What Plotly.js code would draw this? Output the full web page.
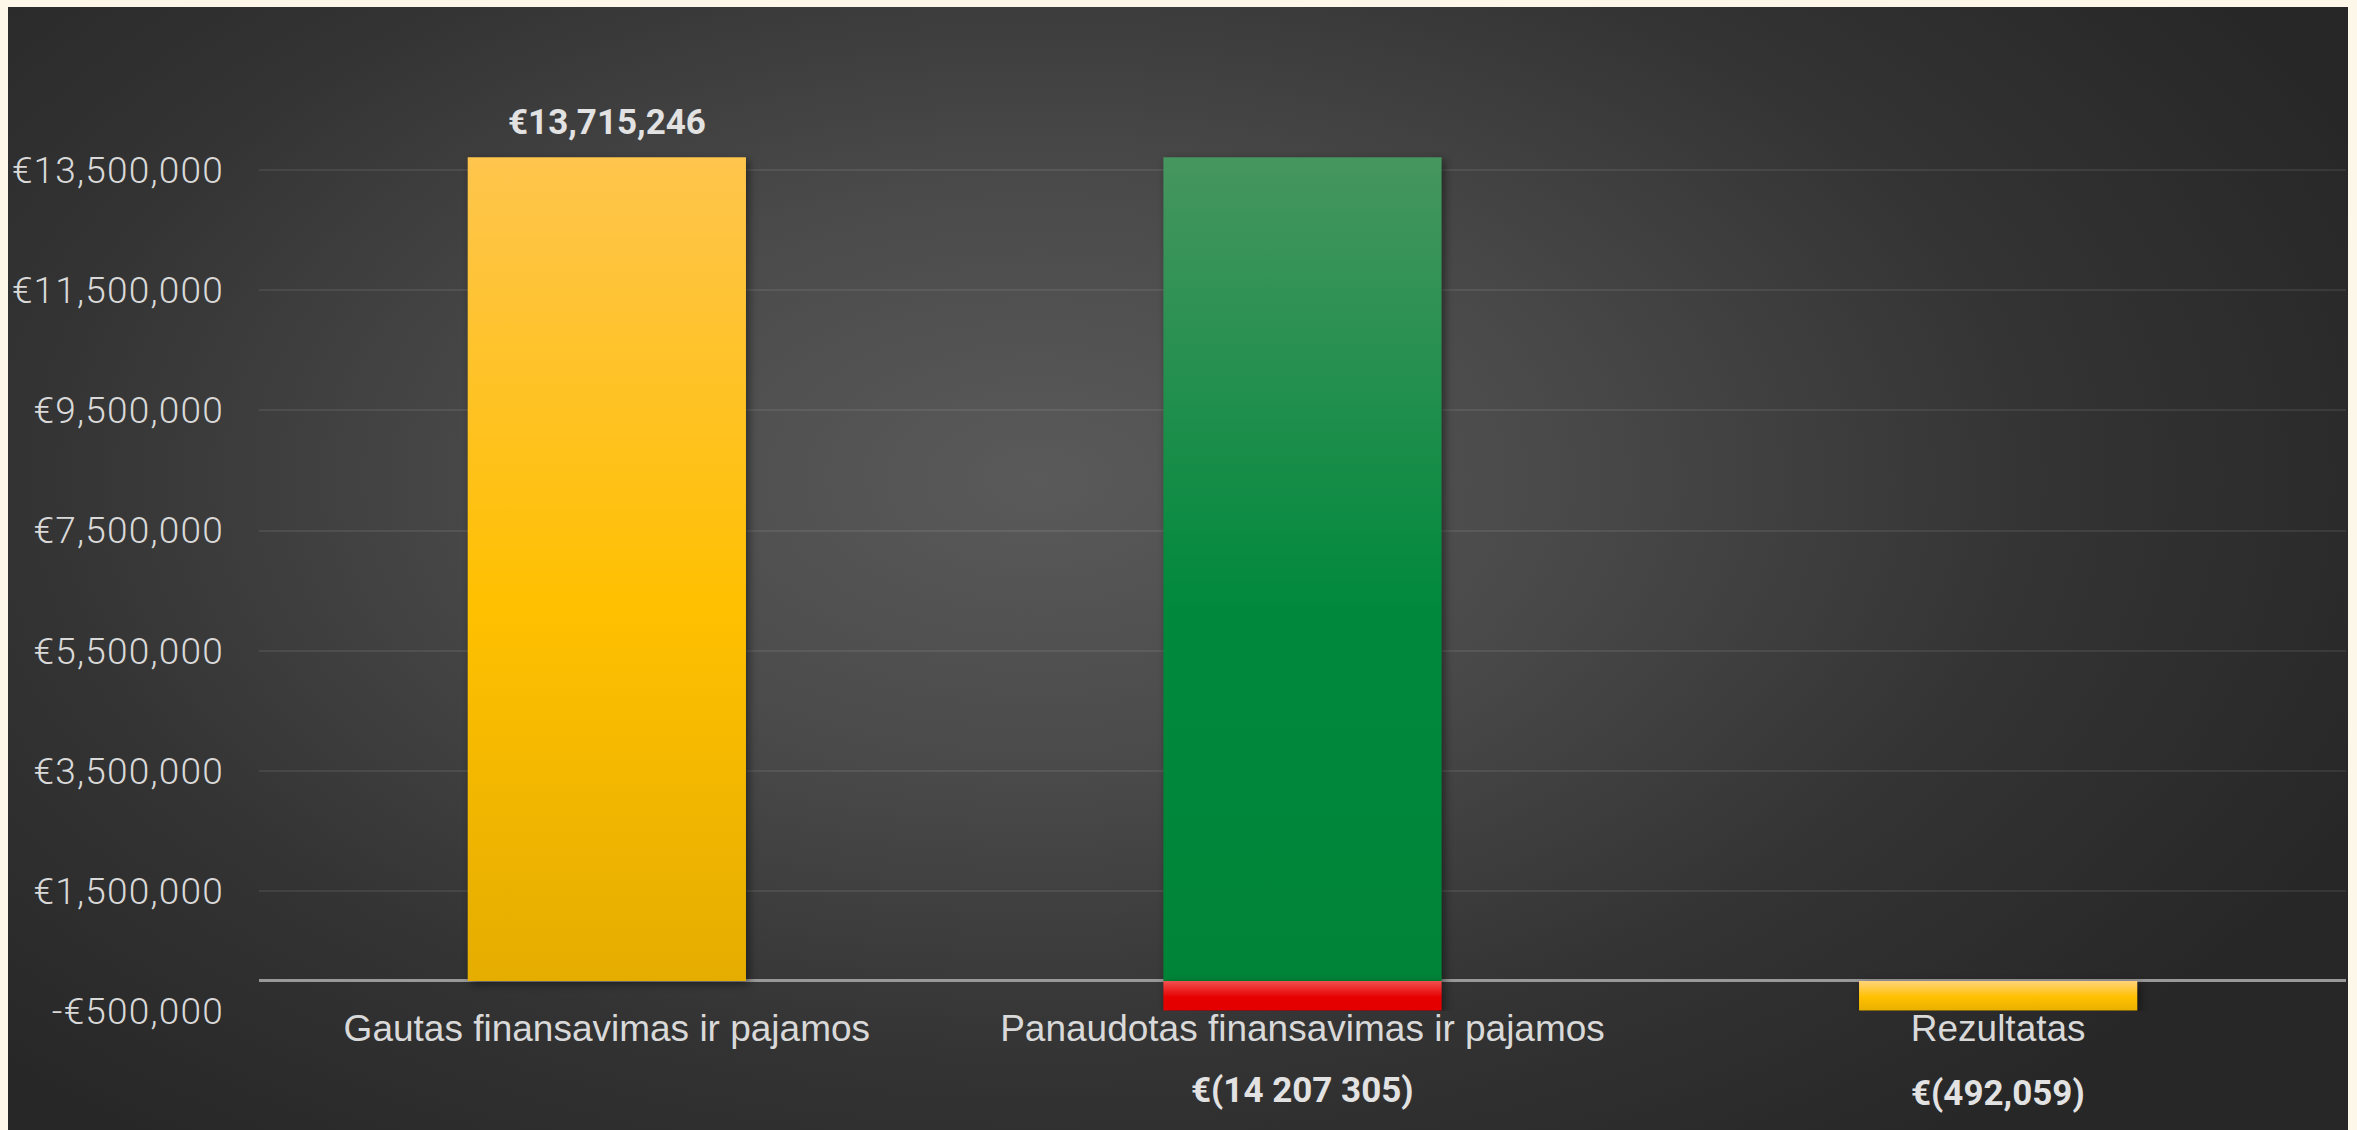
<!DOCTYPE html>
<html>
<head>
<meta charset="utf-8">
<script src="https://cdn.plot.ly/plotly-3.0.1.min.js"></script>
<style>
  html, body { margin: 0; padding: 0; background: #fdf7e9; width: 2357px; height: 1130px; overflow: hidden; }
  #bg { position: absolute; left: 8px; top: 7px; width: 2340px; height: 1123px;
        background: radial-gradient(ellipse 62% 75% at 44% 42%, #5a5a5a 0%, #4a4a4a 35%, #333333 70%, #272727 100%); }
  #chart { position: absolute; left: 0; top: 0; width: 2357px; height: 1130px; }
  .barlayer .point path { filter: drop-shadow(3px 3px 4px rgba(0,0,0,0.45)); }
  .ytick text { letter-spacing: 1.2px; }
</style>
</head>
<body>
<div id="bg"></div>
<div id="chart"></div>
<script>
// ---- data ----
var categories = ['Gautas finansavimas ir pajamos', 'Panaudotas finansavimas ir pajamos', 'Rezultatas'];
var coveredValues = [13715246, 13715246, null];     // positive part of each bar
var deficitValues = [null, -492059, -492059];       // negative part of each bar
var valueLabels = ['€13,715,246', '€(14 207 305)', '€(492,059)'];
var labelAnchors = [13715246, null, null];
var tickValues = [-500000, 1500000, 3500000, 5500000, 7500000, 9500000, 11500000, 13500000];
var tickLabels = ['-€500,000', '€1,500,000', '€3,500,000', '€5,500,000', '€7,500,000', '€9,500,000', '€11,500,000', '€13,500,000'];

var gradYellow = ['#ffc54d', '#ffc000', '#e5ad00'];
var gradGreen  = ['#46965f', '#00893d', '#008438'];
var gradRed    = ['#f25050', '#e60000', '#e40000'];
var gradYellowSmall = ['#ffd47a', '#ffc000', '#e9b000'];

var traces = [
  { type: 'bar', x: categories, y: coveredValues, name: 'covered',
    marker: { color: ['#ffc000', '#00893d', '#ffc000'], line: { width: 0 } }, hoverinfo: 'skip' },
  { type: 'bar', x: categories, y: deficitValues, name: 'deficit',
    marker: { color: ['#ffc000', '#e60000', '#ffc000'], line: { width: 0 } }, hoverinfo: 'skip' }
];

var annotations = [];
categories.forEach(function (c, i) {
  if (labelAnchors[i] !== null) {
    annotations.push({ x: c, xref: 'x', y: labelAnchors[i], yref: 'y', text: valueLabels[i],
      showarrow: false, yanchor: 'middle', yshift: 35,
      font: { family: 'Roboto', size: 35, weight: 700, color: '#e2e2e2' } });
  } else {
    annotations.push({ x: c, xref: 'x', y: 0, yref: 'paper', text: valueLabels[i],
      showarrow: false, yanchor: 'middle', yshift: i === 1 ? -79 : -82,
      font: { family: 'Roboto', size: 35, weight: 700, color: '#e2e2e2' } });
  }
});

var layout = {
  width: 2357, height: 1130,
  margin: { l: 259, r: 11, t: 50, b: 119, pad: 0 },
  paper_bgcolor: 'rgba(0,0,0,0)', plot_bgcolor: 'rgba(0,0,0,0)',
  barmode: 'relative', bargap: 0.6,
  showlegend: false,
  xaxis: { type: 'category', showgrid: false, showline: false, zeroline: false, ticks: '',
    ticklabelstandoff: -8,
    tickfont: { family: 'Liberation Sans, Arial, sans-serif', size: 37, color: '#d9d9d9' } },
  yaxis: { range: [-500000, 15500000], tickmode: 'array', tickvals: tickValues, ticktext: tickLabels,
    showgrid: true, gridcolor: 'rgba(255,255,255,0.08)', gridwidth: 2,
    zeroline: true, zerolinecolor: '#999999', zerolinewidth: 3,
    showline: false, ticks: '', ticklabelstandoff: 34,
    tickfont: { family: 'Roboto', size: 37, weight: 300, color: '#d9d9d9' } },
  annotations: annotations
};

Plotly.newPlot('chart', traces, layout, { staticPlot: true, displayModeBar: false }).then(function (gd) {
  var svg = gd.querySelector('svg.main-svg');
  var ns = 'http://www.w3.org/2000/svg';
  var defs = document.createElementNS(ns, 'defs');
  function mk(id, stops) {
    var g = document.createElementNS(ns, 'linearGradient');
    g.setAttribute('id', id); g.setAttribute('x1', '0'); g.setAttribute('y1', '0');
    g.setAttribute('x2', '0'); g.setAttribute('y2', '1');
    [0, 0.55, 1].forEach(function (o, k) {
      var s = document.createElementNS(ns, 'stop');
      s.setAttribute('offset', o); s.setAttribute('stop-color', stops[k]); g.appendChild(s);
    });
    defs.appendChild(g);
  }
  mk('gY', gradYellow); mk('gG', gradGreen); mk('gR', gradRed); mk('gYs', gradYellowSmall);
  svg.insertBefore(defs, svg.firstChild);
  var fills = [['gY', 'gG', null], [null, 'gR', 'gYs']];
  var traceGroups = gd.querySelectorAll('.barlayer .trace');
  traceGroups.forEach(function (tg, t) {
    tg.querySelectorAll('.point').forEach(function (pt, i) {
      var p = pt.querySelector('path');
      var d = pt.__data__;
      var idx = d && d.i !== undefined ? d.i : i;
      var f = fills[t][idx];
      if (p && f) p.style.fill = 'url(#' + f + ')';
    });
  });
});
</script>
</body>
</html>
